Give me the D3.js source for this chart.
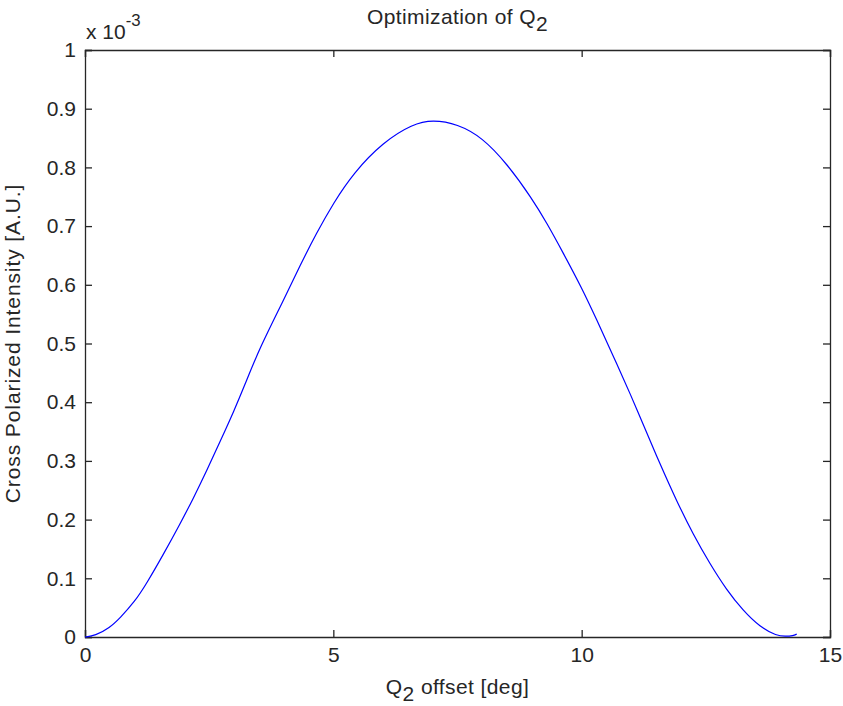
<!DOCTYPE html>
<html>
<head>
<meta charset="utf-8">
<script src="https://cdn.jsdelivr.net/npm/d3@7"></script>
<style>
  body { margin: 0; background: #fff; }
  svg text { font-family: "Liberation Sans", Arial, sans-serif; fill: #262626; }
</style>
</head>
<body>
<div id="chart"></div>
<script>
// offsets in degrees, intensity in units of 1e-3
const offsets = [0, 0.2, 0.5, 0.7, 1.0, 1.24, 1.58, 1.91, 2.18, 2.45, 2.72, 3.0, 3.22, 3.52,
  4.0, 4.33, 4.66, 5.0, 5.4, 6.0, 6.6, 7.0, 7.5, 8.0, 8.5, 9.0, 9.3, 9.63, 10.0, 10.3,
  10.64, 11.0, 11.24, 11.58, 11.91, 12.25, 12.58, 12.92, 13.25, 13.59, 13.93, 14.1, 14.26, 14.33];
const intensity = [0, 0.002, 0.016, 0.032, 0.06, 0.091, 0.141, 0.192, 0.236, 0.283, 0.333, 0.385, 0.43, 0.493,
  0.574, 0.633, 0.688, 0.739, 0.79, 0.843, 0.874, 0.881, 0.874, 0.851, 0.806, 0.747, 0.705, 0.654, 0.595, 0.541,
  0.478, 0.41, 0.362, 0.294, 0.232, 0.174, 0.125, 0.08, 0.045, 0.017, 0.002, 0.001, 0.002, 0.005];

const xTicks = [0, 5, 10, 15];
const yTicks = [0, 0.1, 0.2, 0.3, 0.4, 0.5, 0.6, 0.7, 0.8, 0.9, 1];

const width = 843;
const height = 706;
const margin = {top: 50, right: 13, bottom: 69, left: 85};
const tickLen = 7;
const fontSize = 21;

const x = d3.scaleLinear().domain([0, 15]).range([margin.left, width - margin.right]);
const y = d3.scaleLinear().domain([0, 1]).range([height - margin.bottom, margin.top]);

const data = offsets.map((d, i) => ({x: d, y: intensity[i]}));

const svg = d3.select("#chart")
  .append("svg")
  .attr("width", width)
  .attr("height", height);

const axisColor = "#262626";

// bottom / top axes
const xBottom = svg.append("g")
  .attr("transform", `translate(0, ${y(0)})`)
  .call(d3.axisBottom(x).tickValues(xTicks).tickSize(-tickLen).tickPadding(10).tickFormat(d3.format("d")));

const xTop = svg.append("g")
  .attr("transform", `translate(0, ${y(1)})`)
  .call(d3.axisTop(x).tickValues(xTicks).tickSize(-tickLen).tickFormat(""));

const yLeft = svg.append("g")
  .attr("transform", `translate(${x(0)}, 0)`)
  .call(d3.axisLeft(y).tickValues(yTicks).tickSize(-tickLen).tickPadding(9).tickFormat(d => d3.format("")(+d.toFixed(1))));

const yRight = svg.append("g")
  .attr("transform", `translate(${x(15)}, 0)`)
  .call(d3.axisRight(y).tickValues(yTicks).tickSize(-tickLen).tickFormat(""));

[xBottom, xTop, yLeft, yRight].forEach(g => {
  g.select(".domain").attr("stroke", axisColor).attr("stroke-width", 1.3);
  g.selectAll(".tick line").attr("stroke", axisColor).attr("stroke-width", 1.3);
  g.selectAll(".tick text")
    .attr("font-size", fontSize)
    .attr("font-family", "Liberation Sans, Arial, sans-serif")
    .attr("fill", axisColor);
});

// curve
const line = d3.line()
  .x(d => x(d.x))
  .y(d => y(d.y))
  .curve(d3.curveBasis);

svg.append("path")
  .datum(data)
  .attr("d", line)
  .attr("fill", "none")
  .attr("stroke", "#0000ff")
  .attr("stroke-width", 1.2);

// title
const title = svg.append("text")
  .attr("x", (x(0) + x(15)) / 2)
  .attr("y", 24)
  .attr("text-anchor", "middle")
  .attr("letter-spacing", 0.4)
  .attr("font-size", fontSize);
title.append("tspan").text("Optimization of Q");
title.append("tspan").text("2").attr("dy", 7);

// exponent label
const expo = svg.append("text")
  .attr("x", 86)
  .attr("y", 39)
  .attr("font-size", fontSize);
expo.append("tspan").text("x 10");
expo.append("tspan").text("-3").attr("dy", -13).attr("font-size", fontSize * 0.8);

// x label
const xLabel = svg.append("text")
  .attr("x", (x(0) + x(15)) / 2)
  .attr("y", 694)
  .attr("text-anchor", "middle")
  .attr("letter-spacing", 0.4)
  .attr("font-size", fontSize);
xLabel.append("tspan").text("Q");
xLabel.append("tspan").text("2").attr("dy", 7);
xLabel.append("tspan").text(" offset [deg]").attr("dy", -7);

// y label
svg.append("text")
  .attr("transform", `translate(20, ${(y(0) + y(1)) / 2}) rotate(-90)`)
  .attr("text-anchor", "middle")
  .attr("letter-spacing", 0.9)
  .attr("font-size", fontSize)
  .text("Cross Polarized Intensity [A.U.]");
</script>
</body>
</html>
